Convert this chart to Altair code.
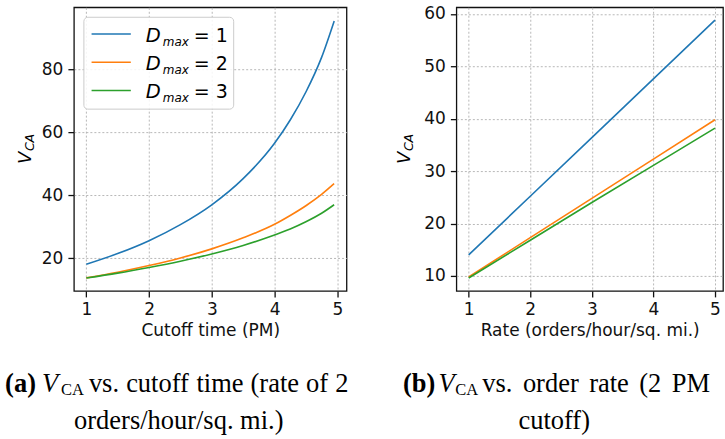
import altair as alt
import pandas as pd

# ---------------- data ----------------
series_names = ["D_max = 1", "D_max = 2", "D_max = 3"]
series_colors = ["#1f77b4", "#ff7f0e", "#2ca02c"]
legend_values = ["1", "2", "3"]

cutoff_times = [1.0, 1.5, 2.0, 2.5, 3.0, 3.5, 4.0, 4.25, 4.5, 4.75, 4.95]
vca_cutoff_d1 = [18.1, 21.5, 25.6, 30.7, 37.0, 45.3, 56.5, 63.9, 72.8, 83.8, 95.3]
vca_cutoff_d2 = [13.8, 15.6, 17.7, 20.1, 23.0, 26.5, 30.8, 33.6, 36.7, 40.3, 43.7]
vca_cutoff_d3 = [13.75, 15.3, 17.1, 19.1, 21.4, 24.1, 27.4, 29.3, 31.6, 34.3, 37.0]

order_rates = [1, 2, 3, 4, 5]
vca_rate_d1 = [14.0, 25.2, 36.4, 47.6, 58.8]
vca_rate_d2 = [9.8, 17.3, 24.8, 32.3, 39.8]
vca_rate_d3 = [9.6, 16.8, 24.0, 31.1, 38.2]

x_ticks = [1, 2, 3, 4, 5]
left_y_ticks = [20, 40, 60, 80]
right_y_ticks = [10, 20, 30, 40, 50, 60]

left_x_title = "Cutoff time (PM)"
right_x_title = "Rate (orders/hour/sq. mi.)"

caption_a_tag = "(a)"
caption_a_words = ["vs.", "cutoff", "time", "(rate", "of", "2"]
caption_a_line2 = "orders/hour/sq. mi.)"
caption_b_tag = "(b)"
caption_b_words = ["vs.", "order", "rate", "(2", "PM"]
caption_b_line2 = "cutoff)"

# ---------------- layout constants ----------------
SANS = "DejaVu Sans"
SERIF = "Liberation Serif"
CAP = 26.5
LW, LH = 273, 284
RW, RH = 267, 284

# word x positions (relative to each panel's plot origin), justified line
cap_a_word_x = [15, 52.3, 122.7, 176.9, 232.5, 261.7]
cap_b_word_x = [26, 66.6, 133, 183.1, 215.7]


def long_df(xs, ys_list):
    rows = []
    for name, ys in zip(series_names, ys_list):
        for x, y in zip(xs, ys):
            rows.append({"x": x, "v": y, "series": name})
    return pd.DataFrame(rows)


def text_layer(rows, size, family, style="normal", weight="normal",
               align="left", angle=0):
    df = pd.DataFrame(rows, columns=["t", "px", "py"])
    return alt.Chart(df).mark_text(
        font=family, fontSize=size, fontStyle=style, fontWeight=weight,
        align=align, baseline="alphabetic", angle=angle, color="black"
    ).encode(
        x=alt.X("px:Q", scale=None, axis=None),
        y=alt.Y("py:Q", scale=None, axis=None),
        text="t:N",
    )


def lines(df, xdom, ydom, yticks, xtitle, interp):
    return alt.Chart(df).mark_line(strokeWidth=1.6, interpolate=interp, clip=True).encode(
        x=alt.X("x:Q", scale=alt.Scale(domain=xdom, nice=False, zero=False),
                axis=alt.Axis(values=x_ticks, format="d", title=xtitle)),
        y=alt.Y("v:Q", scale=alt.Scale(domain=ydom, nice=False, zero=False),
                axis=alt.Axis(values=yticks, format="d", title=None)),
        color=alt.Color("series:N", scale=alt.Scale(domain=series_names, range=series_colors),
                        legend=None),
    )


def ylabel(xv, xs):
    return [
        text_layer([["V", xv, 157]], 18, SANS, style="italic", angle=270),
        text_layer([["CA", xs, 144]], 12.5, SANS, style="italic", angle=270),
    ]


# ---------------- left panel ----------------
left_df = long_df(cutoff_times, [vca_cutoff_d1, vca_cutoff_d2, vca_cutoff_d3])
left_lines = lines(left_df, [0.8025, 5.1475], [9.66, 99.69], left_y_ticks, left_x_title, "monotone")

legend_box = alt.Chart(pd.DataFrame({"a": [0]})).mark_rect(
    fill="white", fillOpacity=0.85, stroke="#cccccc", strokeWidth=1, cornerRadius=4
).encode(x=alt.value(10), x2=alt.value(160), y=alt.value(10), y2=alt.value(102))

row_y = [26.7, 55.0, 83.3]
legend_rules = alt.Chart(pd.DataFrame({
    "x1": [17.7] * 3, "x2": [57] * 3, "y": row_y, "c": series_colors
})).mark_rule(strokeWidth=1.6).encode(
    x=alt.X("x1:Q", scale=None, axis=None), x2="x2:Q",
    y=alt.Y("y:Q", scale=None, axis=None), color=alt.Color("c:N", scale=None))

legend_D = text_layer([["D", 72, y + 7.6] for y in row_y], 19.5, SANS, style="italic")
legend_max = text_layer([["max", 89, y + 11.8] for y in row_y], 12, SANS, style="italic")
legend_eq = text_layer([["= " + v, 120, y + 7.6] for v, y in zip(legend_values, row_y)], 19, SANS)

cap_a = [
    text_layer([[caption_a_tag, -38, 385]], CAP, SERIF, weight="bold", align="right"),
    text_layer([["V", -32, 385]], CAP, SERIF, style="italic"),
    text_layer([["CA", -13, 388]], 16.5, SERIF),
    text_layer([[w, x, 385] for w, x in zip(caption_a_words, cap_a_word_x)], CAP, SERIF),
    text_layer([[caption_a_line2, 105, 422]], CAP, SERIF, align="center"),
]

left = alt.layer(
    left_lines, legend_box, legend_rules, legend_D, legend_max, legend_eq,
    *ylabel(-43, -40), *cap_a
).properties(width=LW, height=LH)

# ---------------- right panel ----------------
right_df = long_df(order_rates, [vca_rate_d1, vca_rate_d2, vca_rate_d3])
right_lines = lines(right_df, [0.8, 5.13], [7.14, 61.26], right_y_ticks, right_x_title, "linear")

cap_b = [
    text_layer([[caption_b_tag, -21, 385]], CAP, SERIF, weight="bold", align="right"),
    text_layer([["V", -18, 385]], CAP, SERIF, style="italic"),
    text_layer([["CA", -1, 388]], 16.5, SERIF),
    text_layer([[w, x, 385] for w, x in zip(caption_b_words, cap_b_word_x)], CAP, SERIF),
    text_layer([[caption_b_line2, 98, 422]], CAP, SERIF, align="center"),
]

right = alt.layer(right_lines, *ylabel(-46, -43), *cap_b).properties(width=RW, height=RH)

chart = alt.hconcat(left, right, spacing=110, bounds="flush").properties(
    padding={"left": 4, "top": 3, "right": 1, "bottom": 0},
    background="white",
).configure_view(
    stroke="#111111", strokeWidth=1.3
).configure_axis(
    labelFont=SANS, labelFontSize=17, labelColor="#111111",
    titleFont=SANS, titleFontSize=17, titleFontWeight="normal", titleColor="#111111",
    tickColor="#111111", tickSize=6, tickWidth=1.3, labelPadding=5, titlePadding=5,
    domain=False, grid=True, gridColor="#b0b0b0", gridDash=[2, 2], gridWidth=0.9,
)

chart.save("out.html", embed_options={"renderer": "svg", "actions": False})
